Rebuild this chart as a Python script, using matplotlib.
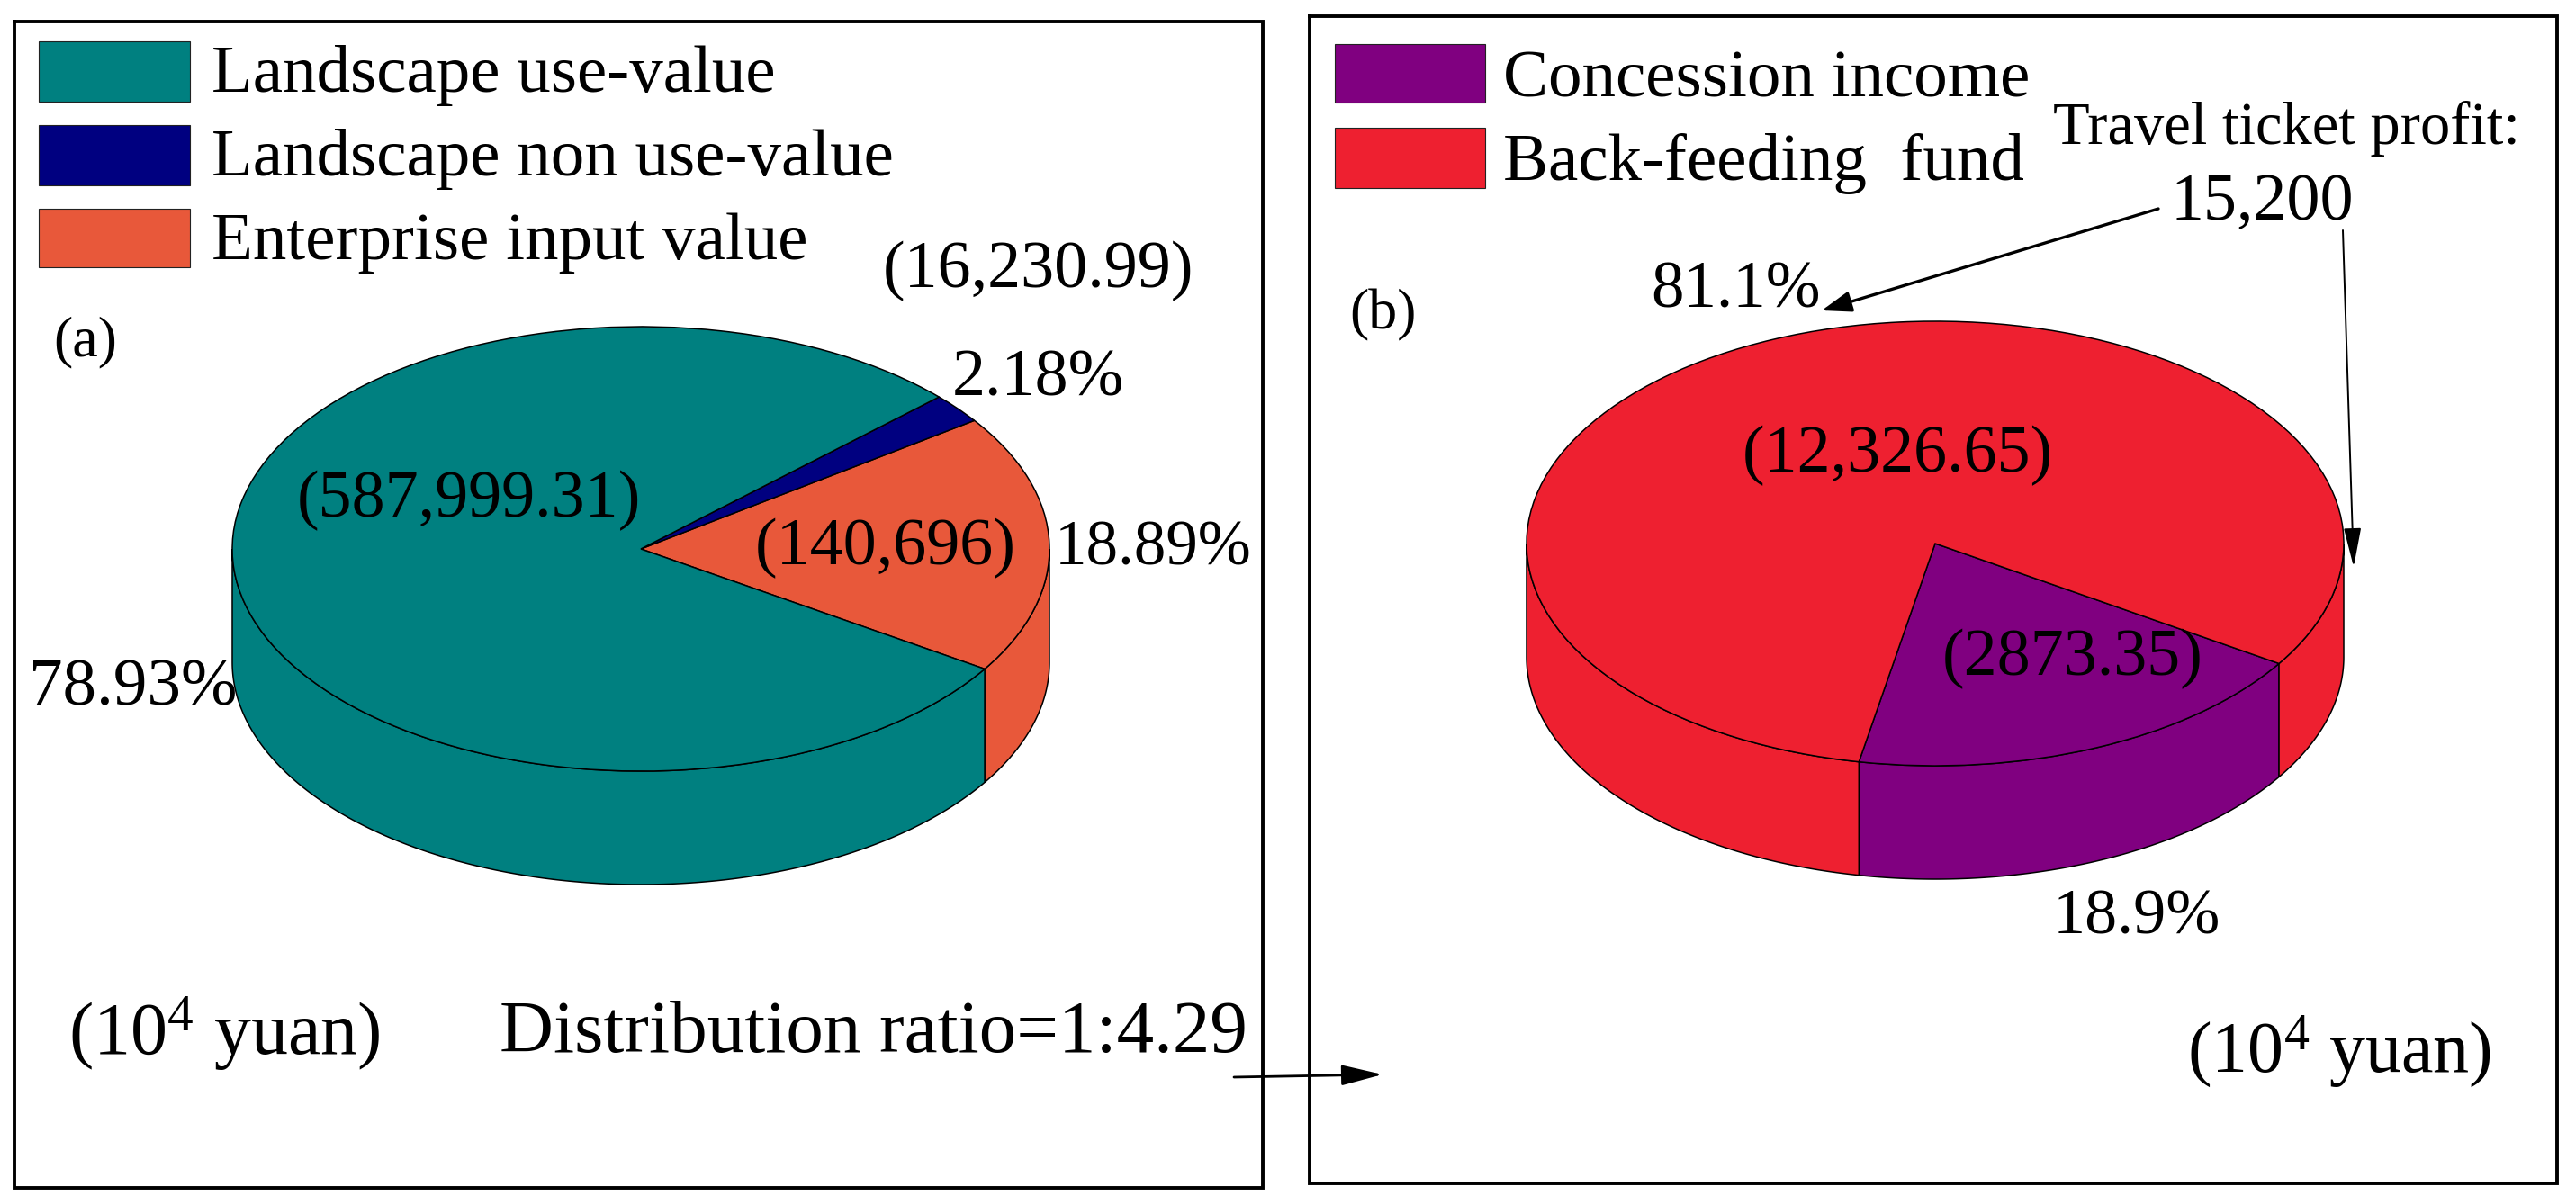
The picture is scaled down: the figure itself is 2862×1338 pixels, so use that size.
import numpy as np
import matplotlib
matplotlib.use("Agg")
import matplotlib.pyplot as plt

plt.rcParams['font.family'] = ['Liberation Serif', 'DejaVu Serif']
plt.rcParams['mathtext.fontset'] = 'custom'
plt.rcParams['mathtext.rm'] = 'Liberation Serif'
plt.rcParams['mathtext.default'] = 'rm'

# panel (a), counterclockwise from the orange slice
values_a = [140696, 16230.99, 587999.31]
colors_a = ['#E8583A', '#000080', '#008080']
legend_a = ['Landscape use-value', 'Landscape non use-value', 'Enterprise input value']
legend_colors_a = ['#008080', '#000080', '#E8583A']

# panel (b), clockwise from the purple slice
values_b = [2873.35, 12326.65]
colors_b = ['#800080', '#EE2030']
legend_b = ['Concession income', 'Back-feeding  fund']
legend_colors_b = ['#800080', '#EE2030']

W, H = 2862, 1338
RX, RY, DEPTH = 454, 247, 126
START = -32.7


def draw_pie(cx, cy, values, colors, counterclock):
    pad = 12
    left = cx - RX - pad
    bottom = H - (cy + RY + DEPTH + pad)
    pie_ax = fig.add_axes([left / W, bottom / H, (2 * RX + 2 * pad) / W, (2 * RY + DEPTH + 2 * pad) / H])
    wedges, _ = pie_ax.pie(values, colors=colors, startangle=START, counterclock=counterclock, radius=1,
                           wedgeprops={'edgecolor': 'black', 'linewidth': 1.1})
    pie_ax.set_aspect('auto')
    pie_ax.set_xlim(-1 - pad / RX, 1 + pad / RX)
    pie_ax.set_ylim(-1 - (DEPTH + pad) / RY, 1 + pad / RY)

    # side wall: only the part of each slice facing the viewer
    for wedge, color in zip(wedges, colors):
        for k in (-2, -1, 0, 1):
            lo = max(wedge.theta1, 180 + 360 * k)
            hi = min(wedge.theta2, 360 + 360 * k)
            if hi <= lo:
                continue
            t = np.radians(np.linspace(lo, hi, 200))
            xs = np.concatenate([np.cos(t), np.cos(t[::-1])])
            ys = np.concatenate([np.sin(t), np.sin(t[::-1]) - DEPTH / RY])
            pie_ax.fill(xs, ys, facecolor=color, edgecolor='black', linewidth=1.1, zorder=0.5)


def frame(x0, y0, x1, y1):
    ax.plot([x0, x1, x1, x0, x0], [y0, y0, y1, y1, y0], color='black', linewidth=2.8, solid_joinstyle='miter')


def label(x, y, s, px=74):
    ax.text(x, y, s, fontsize=px * 0.72, ha='left', va='baseline', color='black')


def arrow(start, end, head_length, head_width, lw):
    ax.annotate('', xy=end, xytext=start,
                arrowprops={'arrowstyle': f'-|>,head_length={head_length},head_width={head_width}',
                            'mutation_scale': 1, 'color': 'black', 'linewidth': lw,
                            'shrinkA': 0, 'shrinkB': 0})


fig = plt.figure(figsize=(W / 100, H / 100), dpi=100, facecolor='white')

draw_pie(712, 610, values_a, colors_a, True)
draw_pie(2150, 604, values_b, colors_b, False)

# overlay in pixel coordinates for frames, legends and the hand placed labels
ax = fig.add_axes([0, 0, 1, 1], zorder=5)
ax.set_xlim(0, W)
ax.set_ylim(H, 0)
ax.axis('off')

frame(16, 24, 1403, 1320)
frame(1455, 18, 2841, 1315)

for (y0, y1), name, color, base in zip([(46, 113), (139, 206), (232, 297)], legend_a, legend_colors_a, [102, 195, 288]):
    ax.fill([43, 211, 211, 43], [y0, y0, y1, y1], facecolor=color, edgecolor='#222222', linewidth=0.8)
    label(235, base, name, 75)

for (y0, y1), name, color, base in zip([(49, 114), (142, 209)], legend_b, legend_colors_b, [107, 200]):
    ax.fill([1483, 1650, 1650, 1483], [y0, y0, y1, y1], facecolor=color, edgecolor='#222222', linewidth=0.8)
    label(1670, base, name, 75)

label(981, 319, '(16,230.99)')
label(59, 395, '(a)', 64)
label(1058, 439, '2.18%')
label(330, 574, '(587,999.31)')
label(839, 627, '(140,696)')
label(1172, 627, '18.89%', 71)
label(32, 784, '78.93%', 75)
label(76, 1172, '(10$^{4}$ yuan)', 82)
label(555, 1169, 'Distribution ratio=1:4.29', 83)

label(2281, 160, 'Travel ticket profit:', 66.5)
label(2412, 244, '15,200')
label(1834, 342, '81.1%', 73)
label(1499, 365, '(b)', 64)
label(1936, 524, '(12,326.65)')
label(2158, 750, '(2873.35)')
label(2281, 1037, '18.9%', 72)
label(2430, 1192, '(10$^{4}$ yuan)', 80)

arrow((2398, 232), (2024, 345), 20, 7, 2.4)
arrow((2603, 256), (2615, 630), 27, 6, 1.4)
arrow((1371, 1197), (1536, 1194), 28, 7, 2.0)

fig.savefig('out.png', dpi=100, facecolor='white')
